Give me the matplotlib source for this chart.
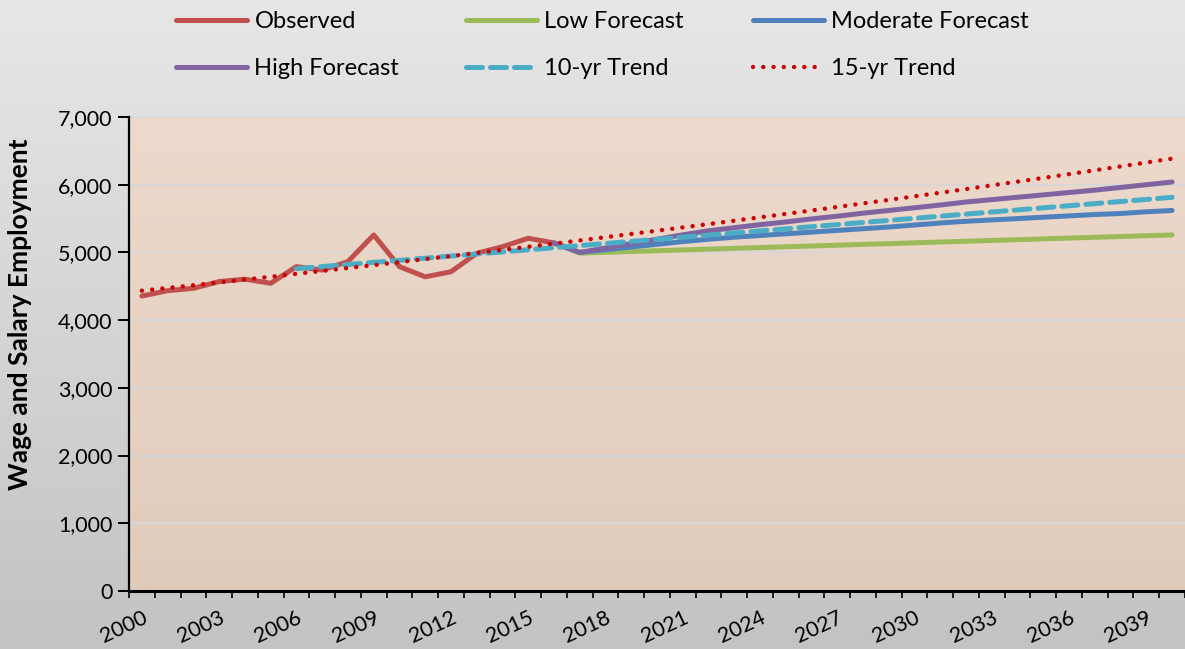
import numpy as np
import matplotlib
matplotlib.use("Agg")
import matplotlib.pyplot as plt

plt.rcParams['font.family'] = ['Lato', 'DejaVu Sans']

# Data
obs_years = list(range(2000, 2017))
observed = [4357, 4435, 4470, 4570, 4605, 4545, 4790, 4740, 4865, 5258,
            4790, 4640, 4715, 4987, 5085, 5209, 5140]

fc_years = list(range(2016, 2041))
low_fc = [5140, 4990, 5002, 5014, 5025, 5037, 5049, 5060, 5072, 5084, 5095,
          5107, 5119, 5130, 5142, 5154, 5165, 5177, 5189, 5200, 5212, 5224,
          5235, 5247, 5258]
moderate_fc = [5140, 5000, 5040, 5080, 5120, 5160, 5195, 5225, 5250, 5275, 5300,
               5325, 5350, 5375, 5405, 5435, 5460, 5480, 5500, 5520, 5540, 5560,
               5575, 5600, 5620]
high_fc = [5140, 5000, 5065, 5130, 5195, 5260, 5320, 5365, 5410, 5450, 5495,
           5535, 5580, 5620, 5660, 5700, 5745, 5780, 5815, 5850, 5885, 5920,
           5960, 6000, 6040]

trend10_years = list(range(2006, 2041))
trend10 = [4760, 4791, 4822, 4853, 4884, 4915, 4946, 4977, 5008, 5039, 5070,
           5101, 5132, 5163, 5194, 5225, 5256, 5287, 5318, 5349, 5380, 5411,
           5442, 5473, 5504, 5535, 5566, 5597, 5628, 5659, 5690, 5721, 5752,
           5783, 5814]

trend15_years = list(range(2000, 2041))
trend15 = [4435, 4476, 4516, 4558, 4599, 4641, 4684, 4727, 4770, 4813, 4857,
           4902, 4947, 4992, 5038, 5084, 5130, 5177, 5225, 5273, 5321, 5370,
           5419, 5469, 5519, 5569, 5620, 5672, 5724, 5776, 5829, 5882, 5936,
           5991, 6046, 6101, 6157, 6213, 6270, 6328, 6386]

tick_years = list(range(2000, 2041, 3))

fig = plt.figure(figsize=(11.85, 6.49), dpi=100)

# figure background gradient (light grey to darker grey)
bg = fig.add_axes([0, 0, 1, 1], zorder=-10)
grad = np.linspace(0, 1, 256).reshape(-1, 1)
top_c = np.array([0.905, 0.905, 0.905])
bot_c = np.array([0.765, 0.765, 0.765])
bg.imshow(top_c + grad[..., None] * (bot_c - top_c), aspect='auto', extent=(0, 1, 0, 1))
bg.set_axis_off()

ax = fig.add_axes([0.1089, 0.0894, 0.8911, 0.7303])
ax.set_xlim(1999.5, 2040.5)
ax.set_ylim(0, 7000)

# plot area gradient (peach)
p_top = np.array([0.933, 0.855, 0.800])
p_bot = np.array([0.878, 0.796, 0.733])
ax.imshow(p_top + grad[..., None] * (p_bot - p_top), aspect='auto',
          extent=(1999.5, 2040.5, 0, 7000), zorder=0)

ax.yaxis.grid(True, color='#d8d8d8', linewidth=1.3, zorder=1)
ax.set_axisbelow(False)

lw = 3.6
ax.plot(obs_years, observed, color='#C0504D', lw=lw, solid_capstyle='round', zorder=3, label='Observed')
ax.plot(fc_years, low_fc, color='#9BBB59', lw=lw, solid_capstyle='round', zorder=3, label='Low Forecast')
ax.plot(fc_years, moderate_fc, color='#4F81BD', lw=lw, solid_capstyle='round', zorder=4, label='Moderate Forecast')
ax.plot(fc_years, high_fc, color='#8064A2', lw=lw, solid_capstyle='round', zorder=4, label='High Forecast')
ax.plot(trend10_years, trend10, color='#4BACC6', lw=lw, dashes=(3.2, 1.6), dash_capstyle='round',
        zorder=5, label='10-yr Trend')
ax.plot(trend15_years, trend15, color='#CC0000', lw=3.2, dashes=(0.01, 2.3), dash_capstyle='round',
        zorder=6, label='15-yr Trend')

# axes styling
for s in ['top', 'right']:
    ax.spines[s].set_visible(False)
ax.spines['left'].set_linewidth(1.6)
ax.spines['bottom'].set_linewidth(2.2)
ax.spines['left'].set_zorder(7)
ax.spines['bottom'].set_zorder(7)

ax.set_yticks(range(0, 7001, 1000))
ax.set_yticklabels([f'{v:,}' for v in range(0, 7001, 1000)], fontsize=15.5)
ax.tick_params(axis='y', length=8, width=1.4, pad=4)

ax.set_xticks(tick_years)
ax.set_xticklabels([str(y) for y in tick_years], fontsize=15.5, rotation=25,
                   ha='right', va='top', rotation_mode='anchor')
ax.tick_params(axis='x', which='major', length=0, pad=12)
ax.set_xticks(np.arange(1999.5, 2040.6, 1), minor=True)
ax.tick_params(axis='x', which='minor', length=5, width=1.2)

ax.set_ylabel('Wage and Salary Employment', fontsize=19, fontweight='bold')
ax.yaxis.set_label_coords(-0.092, 0.584)

# legend in three columns, two rows
handles, labels = ax.get_legend_handles_labels()
order = [[0, 3], [1, 4], [2, 5]]
xpos = [0.131, 0.3755, 0.6177]
for col, xp in zip(order, xpos):
    fig.legend([handles[i] for i in col], [labels[i] for i in col],
               loc='upper left', bbox_to_anchor=(xp, 1.016), frameon=False,
               fontsize=17, handlelength=3.0, handletextpad=0.3,
               labelspacing=1.1)

fig.savefig('out.png', dpi=100)
